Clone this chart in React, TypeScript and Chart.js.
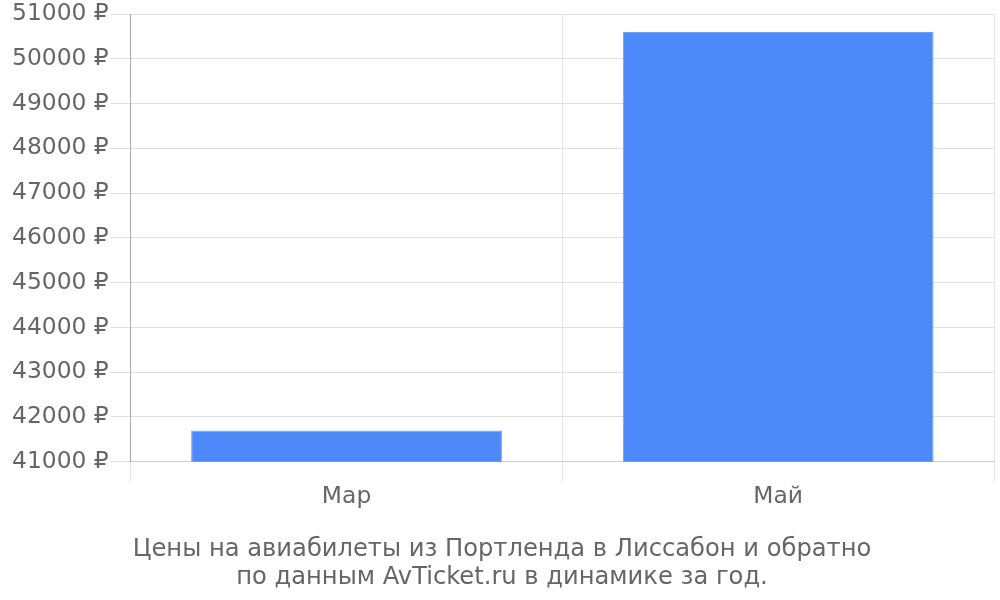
import React, { useEffect, useRef } from "react";
import { Chart, registerables } from "chart.js";

Chart.register(...registerables);

const categories = ["Мар", "Май"];
const prices = [41700, 50600];
const yMin = 41000;
const yMax = 51000;
const yStep = 1000;
const titleLines = [
  "Цены на авиабилеты из Портленда в Лиссабон и обратно",
  "по данным AvTicket.ru в динамике за год.",
];

export default function App() {
  const ref = useRef<HTMLCanvasElement | null>(null);
  useEffect(() => {
    if (!ref.current) return;
    const font = "'DejaVu Sans', sans-serif";
    const chart = new Chart(ref.current, {
      type: "bar",
      data: {
        labels: categories,
        datasets: [
          {
            data: prices,
            backgroundColor: "#4d89f9",
            borderColor: "#6e9ffa",
            borderWidth: 1,
          },
        ],
      },
      options: {
        animation: false,
        responsive: false,
        layout: { padding: { left: 10, right: 6, top: 14, bottom: 8 } },
        plugins: {
          legend: { display: false },
          tooltip: { enabled: false },
          title: {
            display: true,
            position: "bottom",
            text: titleLines,
            color: "#666",
            font: { family: font, size: 24.2, weight: "normal", lineHeight: 1.16 },
            padding: { top: 24, bottom: 0 },
          },
        },
        scales: {
          x: {
            grid: { color: "#e5e5e5", tickLength: 20, lineWidth: 1 },
            border: { color: "#ccc" },
            ticks: { color: "#666", font: { family: font, size: 23.4 }, padding: 1 },
          },
          y: {
            min: yMin,
            max: yMax,
            grid: { color: "#e0e0e0", tickLength: 20 },
            border: { color: "#aaa" },
            ticks: {
              stepSize: yStep,
              color: "#666",
              font: { family: font, size: 23.4, lineHeight: 1 },
              padding: 2,
              callback: (v: any) => `${v} ₽`,
            },
          },
        },
      },
    });
    return () => chart.destroy();
  }, []);
  return (
    <div style={{ position: "absolute", left: 0, top: 0, width: 1000, height: 600, background: "#fff" }}>
      <canvas ref={ref} width={1000} height={600} />
    </div>
  );
}
